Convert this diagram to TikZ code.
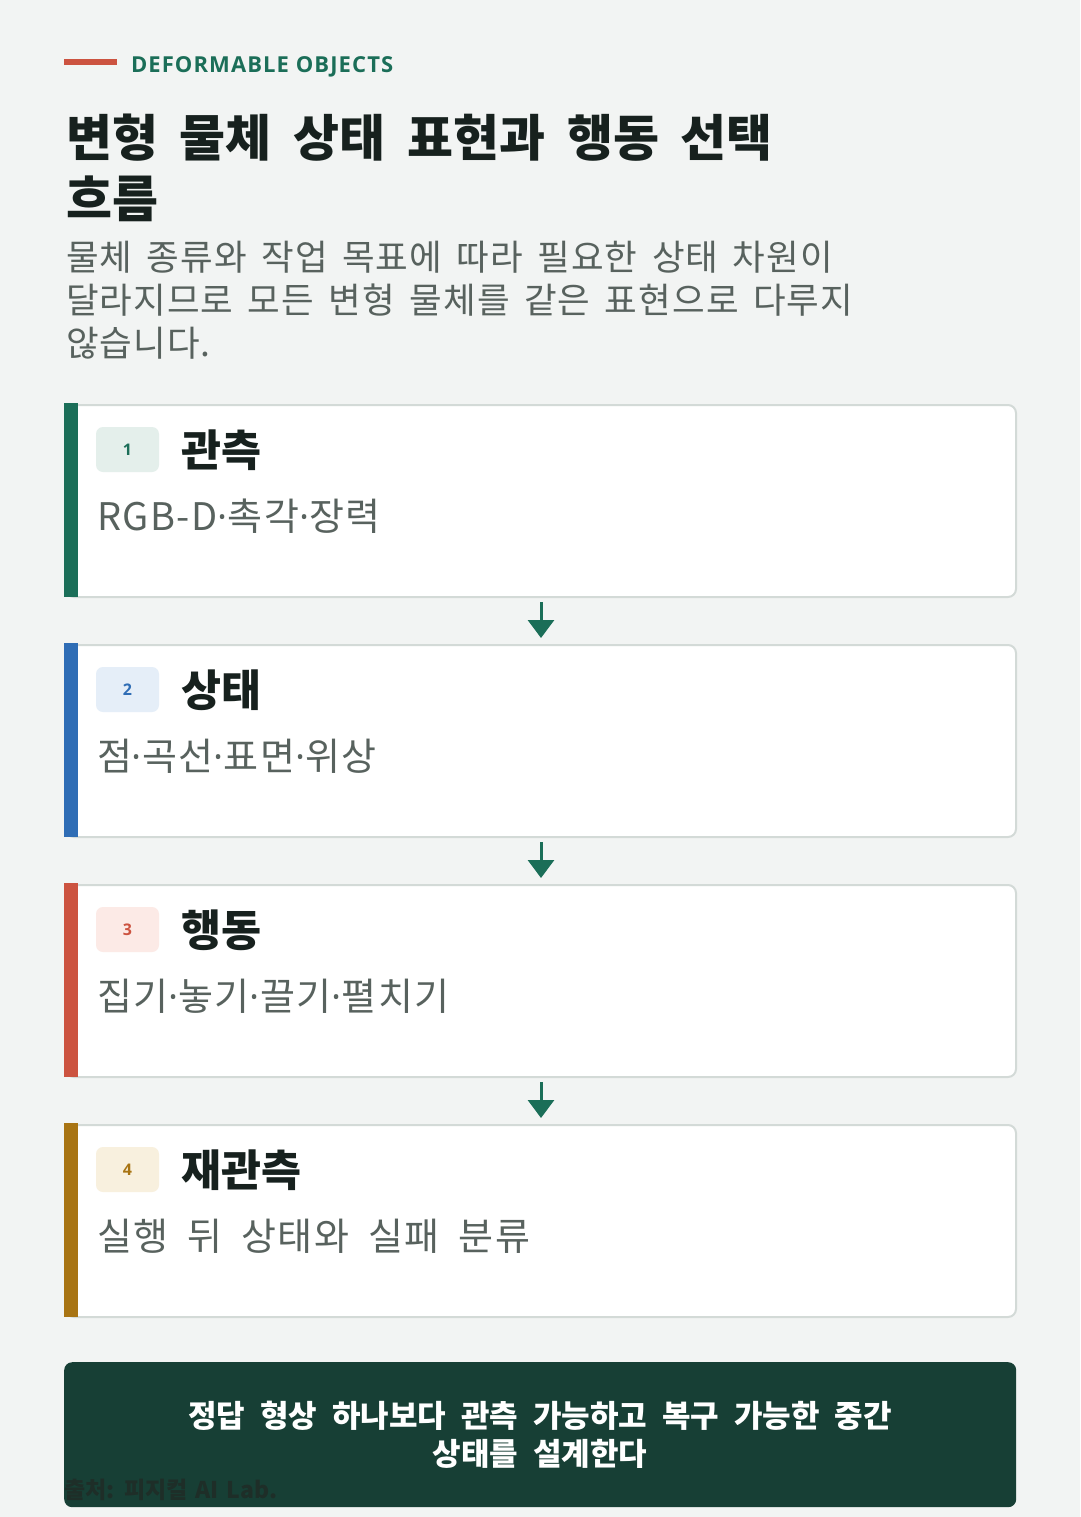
\documentclass[tikz,border=0pt]{standalone}
\usepackage{fontspec}
\setmainfont{Noto Sans CJK KR}
\newfontfamily\latinsans{Open Sans}
\usetikzlibrary{arrows.meta}
\definecolor{bg}{HTML}{F2F4F3}
\definecolor{ink}{HTML}{17211E}
\definecolor{subink}{HTML}{58625E}
\definecolor{brand}{HTML}{1B6E58}
\definecolor{accent}{HTML}{CC5340}
\definecolor{cardline}{HTML}{D3DAD7}
\definecolor{darkbox}{HTML}{173F35}
\definecolor{srcink}{HTML}{1E2E28}
\definecolor{cgreen}{HTML}{1B6E58}
\definecolor{cblue}{HTML}{2F6DB5}
\definecolor{cred}{HTML}{CC5340}
\definecolor{cochre}{HTML}{A87413}
\definecolor{bgreen}{HTML}{E4EFEB}
\definecolor{bblue}{HTML}{E5EEF8}
\definecolor{bred}{HTML}{FCEAE6}
\definecolor{bochre}{HTML}{F8F0DE}
\newcommand{\fs}[1]{\fontsize{#1}{#1}\selectfont}
\newcommand{\md}{{\latinsans ·}}
\newcommand{\ls}[1]{\addfontfeature{LetterSpace=#1}}
\newcommand{\ws}[1]{\spaceskip=#1\fontdimen2\font\relax}
\begin{document}
\begin{tikzpicture}[x=1pt,y=-1pt,
  txt/.style={inner sep=0pt, outer sep=0pt, anchor=base west},
  cardbox/.style={draw=cardline, line width=2pt, fill=white, rounded corners=8pt,
    minimum width=950pt, minimum height=192pt, inner sep=0pt, anchor=north west},
  badgebox/.style={fill=#1, rounded corners=7pt, minimum width=63pt, minimum height=45pt, inner sep=0pt},
  cardtitle/.style={txt, text=ink, font=\fs{43.5}\bfseries},
  carddesc/.style={txt, text=subink, font=\fs{38}\ls{4}\ws{1.9}},
  flow/.style={draw=brand, line width=3pt, -{Triangle[width=26pt,length=18pt]}, shorten <=4pt, shorten >=6pt}
]
\fill[bg] (0,0) rectangle (1080,1517);
\useasboundingbox (0,0) rectangle (1080,1517);

% header
\fill[accent] (64,59.5) rectangle (117,65);
\node[txt, text=brand, font=\latinsans\fs{22}\bfseries\ls{5}] (kicker) at (131,73) {DEFORMABLE OBJECTS};
\node[txt, text=ink, font=\fs{50}\bfseries\ws{1.9}] (title1) at (66,157) {변형 물체 상태 표현과 행동 선택};
\node[txt, text=ink, font=\fs{50}\bfseries] (title2) at (66,217) {흐름};
\node[txt, text=subink, font=\fs{35.5}\ls{3}\ws{1.6}] (sub1) at (66,270) {물체 종류와 작업 목표에 따라 필요한 상태 차원이};
\node[txt, text=subink, font=\fs{35.5}\ls{3}\ws{1.6}] (sub2) at (66,313) {달라지므로 모든 변형 물체를 같은 표현으로 다루지};
\node[txt, text=subink, font=\fs{35.5}\ls{3}] (sub3) at (66,356) {않습니다.};

% cards
\foreach \i/\top/\bar/\bb/\num/\ttl/\desc in {
  1/403/cgreen/bgreen/1/관측/RGB-D\md 촉각\md 장력,
  2/643/cblue/bblue/2/상태/점\md 곡선\md 표면\md 위상,
  3/883/cred/bred/3/행동/집기\md 놓기\md 끌기\md 펼치기,
  4/1123/cochre/bochre/4/재관측/실행 뒤 상태와 실패 분류}{
  \node[cardbox] (card\i) at (65,\top+1) {};
  \fill[\bar] (64,\top) rectangle (78,\top+194);
  \node[badgebox=\bb, text=\bar, font=\latinsans\fs{16}\bfseries] (badge\i) at (127.5,\top+46.5) {\num};
  \node[cardtitle] (ttl\i) at (181,\top+63) {\ttl};
  \node[carddesc] (desc\i) at (97,\top+127) {\desc};
}

% connectors
\draw[flow] (card1.south) -- (card2.north);
\draw[flow] (card2.south) -- (card3.north);
\draw[flow] (card3.south) -- (card4.north);

% conclusion box
\node[fill=darkbox, rounded corners=8pt, minimum width=952pt, minimum height=145pt, inner sep=0pt, anchor=north west] (concl) at (64,1362) {};
\node[inner sep=0pt, anchor=base, text=white, font=\fs{31}\bfseries\ws{2.1}] (concl1) at (540,1427) {정답 형상 하나보다 관측 가능하고 복구 가능한 중간};
\node[inner sep=0pt, anchor=base, text=white, font=\fs{31}\bfseries\ws{2.1}] (concl2) at (540,1465) {상태를 설계한다};

% source
\node[txt, text=srcink, font=\fs{23}\bfseries\ws{1.5}] (source) at (64,1498) {출처: 피지컬 AI Lab.};
\end{tikzpicture}
\end{document}
